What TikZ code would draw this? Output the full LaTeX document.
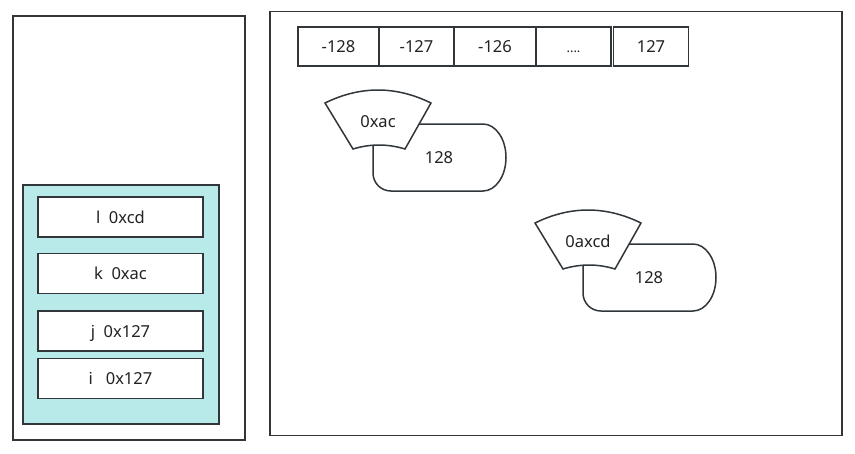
\documentclass[tikz,border=0pt]{standalone}
\usepackage{fontspec}
\setmainfont{Noto Sans}
\definecolor{edge}{HTML}{30363A}
\definecolor{cyanfill}{HTML}{B8EAEA}
\definecolor{txt}{HTML}{222222}
\begin{document}
\begin{tikzpicture}[x=1pt,y=-1pt,
  box/.style={draw=edge,line width=1.5pt,fill=white,inner sep=0pt},
  lbl/.style={inner sep=0pt,text=txt,text height=12pt,text depth=0pt,font=\fontsize{16.5}{19}\selectfont},
  shp/.style={draw=edge,line width=1.5pt,fill=white}]
\useasboundingbox (0,0) rectangle (855,453);
% panels
\node[box,minimum width=232pt,minimum height=424pt] (leftpanel) at (129,228) {};
\node[box,minimum width=572pt,minimum height=424pt] (rightpanel) at (556,223.5) {};
% stack
\node[box,fill=cyanfill,minimum width=196pt,minimum height=239pt] (stack) at (121,304.5) {};
\node[box,minimum width=165pt,minimum height=40pt] (bl) at (120.5,217) {};
\node[box,minimum width=165pt,minimum height=40pt] (bk) at (120.5,273.5) {};
\node[box,minimum width=165pt,minimum height=40pt] (bj) at (120.5,331) {};
\node[box,minimum width=165pt,minimum height=40pt] (bi) at (120.5,378.5) {};
\node[lbl] (tl) at (bl.center) {l\ \ 0xcd};
\node[lbl] (tk) at (bk.center) {k\ \ 0xac};
\node[lbl] (tj) at (bj.center) {j\ \ 0x127};
\node[lbl] (ti) at (bi.center) {i\ \ \ 0x127};
% array
\node[box,minimum width=81pt,minimum height=39pt] (c1) at (338.5,46.5) {};
\node[box,minimum width=75pt,minimum height=39pt] (c2) at (416.5,46.5) {};
\node[box,minimum width=82pt,minimum height=39pt] (c3) at (495,46.5) {};
\node[box,minimum width=75pt,minimum height=39pt] (c4) at (573.5,46.5) {};
\node[box,minimum width=75pt,minimum height=39pt] (c5) at (651,46.5) {};
\node[lbl] (t1) at (c1.center) {-128};
\node[lbl] (t2) at (c2.center) {-127};
\node[lbl] (t3) at (c3.center) {-126};
\node[lbl,font=\fontsize{13}{16}\selectfont] (t4) at (c4.center) {....};
\node[lbl] (t5) at (c5.center) {127};
% objects
\foreach \dx/\dy/\name/\val in {0/0/0xac/128, 210/120/0axcd/128}{
\begin{scope}[shift={(\dx,\dy)}]
\draw[shp] (483,124) -- (393,124) .. controls (382,124) and (373,133) .. (373,144)
  -- (373,173) .. controls (373,183) and (381,191) .. (391,191) -- (483,191)
  .. controls (495.7,191) and (506,176) .. (506,157.5)
  .. controls (506,139) and (495.7,124) .. (483,124) -- cycle;
\draw[shp] (325,103) .. controls (360.3,85.7) and (395.7,85.7) .. (431,103)
  -- (405,149) .. controls (387.7,143.7) and (370.3,143.7) .. (353,149) -- cycle;
\node[lbl] at (378,121) {\name};
\node[lbl] at (439,157) {\val};
\end{scope}}
\end{tikzpicture}
\end{document}
